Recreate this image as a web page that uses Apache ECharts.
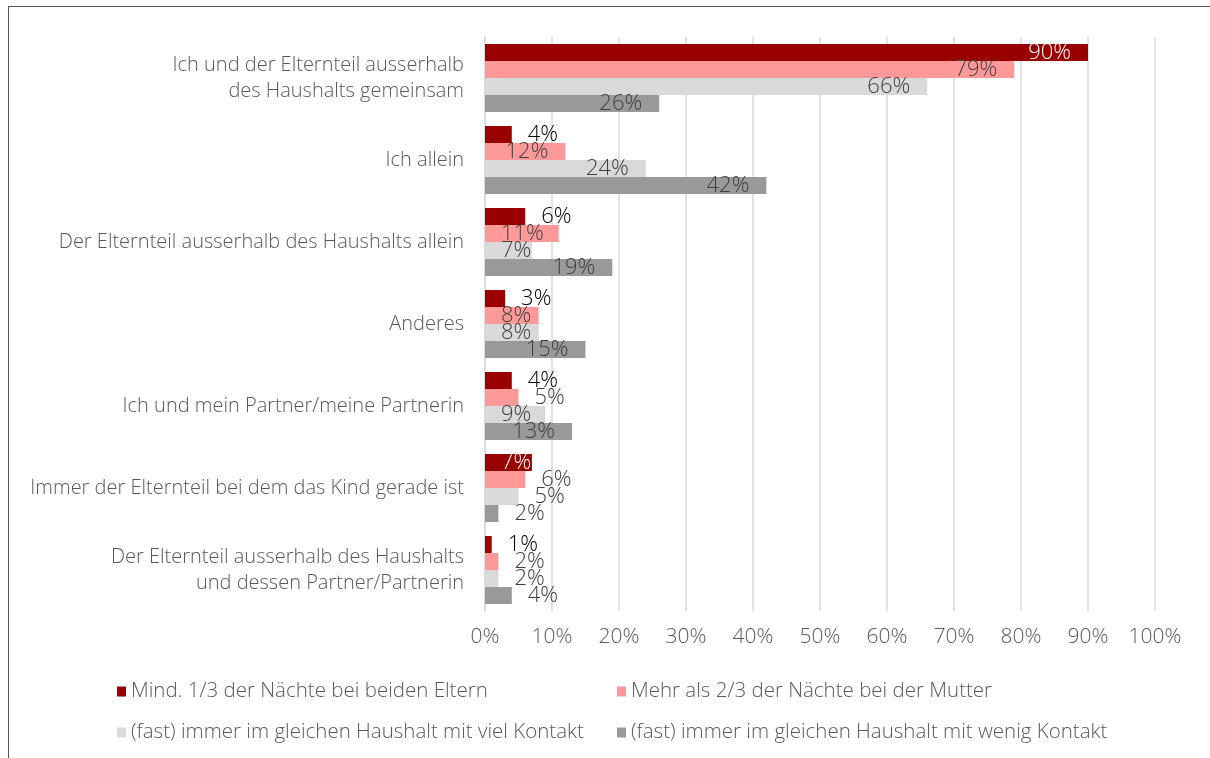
<!DOCTYPE html>
<html>
<head>
<meta charset="utf-8">
<script src="https://cdn.jsdelivr.net/npm/echarts@6/dist/echarts.min.js"></script>
<style>
  body { margin: 0; background: #fff; }
  #frame { position: absolute; left: 8px; top: 6px; width: 1300px; height: 900px;
           border-top: 1.5px solid #595959; border-left: 1.5px solid #595959; }
  #chart { position: absolute; left: 0; top: 0; width: 1210px; height: 758px; }
</style>
</head>
<body>
<div id="frame"></div>
<div id="chart"></div>
<script>
(function(){

var categories = [
    'Ich und der Elternteil ausserhalb\ndes Haushalts gemeinsam',
    'Ich allein',
    'Der Elternteil ausserhalb des Haushalts allein',
    'Anderes',
    'Ich und mein Partner/meine Partnerin',
    'Immer der Elternteil bei dem das Kind gerade ist',
    'Der Elternteil ausserhalb des Haushalts\nund dessen Partner/Partnerin'
];
var seriesNames = [
    'Mind. 1/3 der Nächte bei beiden Eltern',
    'Mehr als 2/3 der Nächte bei der Mutter',
    '(fast) immer im gleichen Haushalt mit viel Kontakt',
    '(fast) immer im gleichen Haushalt mit wenig Kontakt'
];
var beideEltern   = [90, 4, 6, 3, 4, 7, 1];
var mutter        = [79, 12, 11, 8, 5, 6, 2];
var vielKontakt   = [66, 24, 7, 8, 9, 5, 2];
var wenigKontakt  = [26, 42, 19, 15, 13, 2, 4];
var xTicks = [0, 10, 20, 30, 40, 50, 60, 70, 80, 90, 100];

var values = [beideEltern, mutter, vielKontakt, wenigKontakt];
var colors = ['#990000', '#ff9999', '#d9d9d9', '#999999'];
var labelColors = ['#000000', '#404040', '#404040', '#404040'];
var font = '"Open Sans", "Noto Sans", sans-serif';
var labelSize = 22;

var chart = echarts.init(document.getElementById('chart'));

// text width measurement for label placement
var ctx = document.createElement('canvas').getContext('2d');
ctx.font = '300 ' + labelSize + 'px ' + font;
function textW(s) { return ctx.measureText(s).width; }

function buildSeries(pxPerUnit) {
    return values.map(function(arr, si){
        return {
            name: seriesNames[si],
            type: 'bar',
            barWidth: 17,
            barGap: '0%',
            itemStyle: { color: colors[si] },
            data: arr.map(function(v){
                var barPx = v * pxPerUnit;
                var w = textW(v + '%');
                var lbl;
                if (pxPerUnit && barPx >= w + 14) {
                    var d = Math.max(0, Math.min(17, barPx - w - 16));
                    lbl = { position: 'insideRight', distance: d,
                            color: si === 0 ? '#ffffff' : labelColors[si] };
                } else {
                    lbl = { position: 'right', distance: 16, color: labelColors[si] };
                }
                return { value: v, label: lbl };
            }),
            label: {
                show: true,
                formatter: '{c}%',
                fontFamily: font,
                fontWeight: 300,
                fontSize: labelSize
            }
        };
    });
}

var legends = seriesNames.map(function(n, i){
    return {
        data: [n],
        left: i % 2 === 0 ? 112 : 612,
        top: i < 2 ? 676 : 717,
        icon: 'rect',
        itemWidth: 9,
        itemHeight: 10,
        itemGap: 0,
        textStyle: { color: '#595959', fontSize: 20.5, fontFamily: font, fontWeight: 300, padding: [0, 0, 0, 0] }
    };
});

option = {
    animation: false,
    color: colors,
    grid: { left: 485, right: 55, top: 37, bottom: 147, containLabel: false },
    legend: legends,
    xAxis: {
        type: 'value',
        min: 0,
        max: 100,
        interval: 10,
        axisLine: { show: false },
        axisTick: { show: false },
        splitLine: { lineStyle: { color: '#d9d9d9', width: 1.5 } },
        axisLabel: { formatter: '{value}%', color: '#595959', fontSize: 21,
                     fontFamily: font, fontWeight: 300, margin: 16 }
    },
    yAxis: {
        type: 'category',
        inverse: true,
        data: categories,
        axisLine: { show: true, lineStyle: { color: '#d9d9d9', width: 1.5 } },
        axisTick: { show: false },
        axisLabel: { color: '#595959', fontSize: 20, fontFamily: font, fontWeight: 300,
                     margin: 21, lineHeight: 26, align: 'right' }
    },
    series: buildSeries(0)
};

chart.setOption(option);
var px = chart.convertToPixel({ xAxisIndex: 0 }, 10) - chart.convertToPixel({ xAxisIndex: 0 }, 0);
chart.setOption({ series: buildSeries(px / 10) });

})();
</script>
</body>
</html>
